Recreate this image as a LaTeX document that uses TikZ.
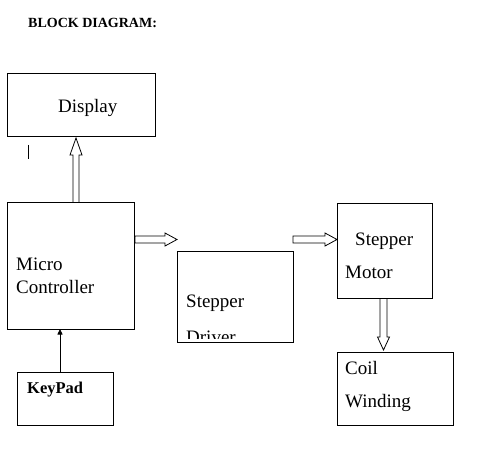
\documentclass[tikz,border=0pt]{standalone}
\usepackage{fontspec}
\setmainfont{Liberation Serif}
\usetikzlibrary{arrows.meta,calc}
\begin{document}
\begin{tikzpicture}[x=1bp,y=-1bp,
  box/.style={draw, line width=0.9bp, inner sep=0pt, outer sep=0pt, anchor=north west},
  lbl/.style={anchor=base west, inner sep=0pt, font=\fontsize{19bp}{22bp}\selectfont},
  hollow/.style={draw, line width=0.8bp, line join=miter},
  thin/.style={line width=0.8bp}]
\useasboundingbox (0,0) rectangle (477,457);
\node[anchor=base west, inner sep=0pt, font=\bfseries\fontsize{14bp}{16bp}\selectfont] (title) at (28,28) {BLOCK DIAGRAM:};
% boxes
\node[box, minimum width=148bp, minimum height=63bp] (disp) at (7,73) {};
\node[box, minimum width=127bp, minimum height=127bp] (mc) at (7,202) {};
\node[box, minimum width=116bp, minimum height=91bp] (drv) at (177,251) {};
\node[box, minimum width=95bp, minimum height=95bp] (mot) at (337,203) {};
\node[box, minimum width=116bp, minimum height=73bp] (coil) at (337,352) {};
\node[box, minimum width=96bp, minimum height=53bp] (key) at (17,372) {};
% labels
\node[lbl] (tdisp) at (58,113) {Display};
\node[lbl] (tmc1) at (16,270) {Micro};
\node[lbl] (tmc2) at (16,293) {Controller};
\node[lbl] (tdrv1) at (186,307) {Stepper};
\begin{scope}
  \clip (177,251) rectangle (293,338);
  \node[lbl] (tdrv2) at (186,343) {Driver};
\end{scope}
\node[lbl] (tmot1) at (355,245) {Stepper};
\node[lbl] (tmot2) at (345,278) {Motor};
\node[lbl] (tcoil1) at (345,374) {Coil};
\node[lbl] (tcoil2) at (345,407) {Winding};
\node[anchor=base west, inner sep=0pt, font=\bfseries\fontsize{16.5bp}{19bp}\selectfont] (tkey) at (27,393) {KeyPad};
% tick
\coordinate (tk1) at (28,145);
\coordinate (tk2) at (28,159);
\draw[thin] (tk1) -- (tk2);
% hollow arrow: micro controller -> display
\coordinate (ua) at ($(mc.north west)+(69,0)$);
\draw[hollow] (ua) ++(-3,0) -- ++(0,-47) -- ++(-3,0) -- ++(6,-17) -- ++(6,17) -- ++(-3,0) -- ++(0,47);
% hollow arrow: micro controller -> driver
\coordinate (ra) at ($(mc.north east)+(1,37.5)$);
\draw[hollow] (ra) ++(0,-3.5) -- ++(30,0) -- ++(0,-3) -- ++(12,6.5) -- ++(-12,6.5) -- ++(0,-3) -- ++(-30,0) -- cycle;
% hollow arrow: driver -> motor
\coordinate (rb) at ($(drv.north east)+(0,-11.5)$);
\draw[hollow] (rb) ++(0,-3.5) -- ++(32,0) -- ++(0,-3) -- ++(12,6.5) -- ++(-12,6.5) -- ++(0,-3) -- ++(-32,0) -- cycle;
% hollow arrow: motor -> coil
\coordinate (da) at ($(mot.south west)+(46.5,0)$);
\draw[hollow] (da) ++(-3.5,0) -- ++(0,39) -- ++(-2.5,0) -- ++(6,13) -- ++(6,-13) -- ++(-2.5,0) -- ++(0,-39);
% keypad -> micro controller
\draw[thin, -{Triangle[length=5.5bp,width=5bp]}] ($(key.north west)+(43,0)$) -- ($(mc.south west)+(53,0)$);
\end{tikzpicture}
\end{document}
